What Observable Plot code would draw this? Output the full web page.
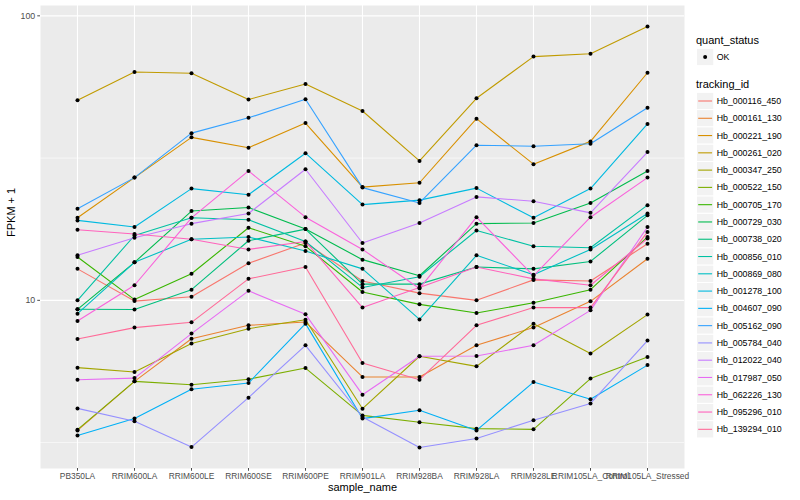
<!DOCTYPE html>
<html>
<head>
<meta charset="utf-8">
<script src="https://cdn.jsdelivr.net/npm/d3@7"></script>
<script src="https://cdn.jsdelivr.net/npm/@observablehq/plot@0.6"></script>
<style>
  body { margin: 0; background: #ffffff; }
  #chart { width: 800px; height: 500px; }
</style>
</head>
<body>
<div id="chart"></div>
<script>
// ---------------- data ----------------
const samples = ["PB350LA", "RRIM600LA", "RRIM600LE", "RRIM600SE", "RRIM600PE", "RRIM901LA",
  "RRIM928BA", "RRIM928LA", "RRIM928LE", "RRIM105LA_Control", "RRIM105LA_Stressed"];

const trackingIds = ["Hb_000116_450", "Hb_000161_130", "Hb_000221_190", "Hb_000261_020",
  "Hb_000347_250", "Hb_000522_150", "Hb_000705_170", "Hb_000729_030", "Hb_000738_020",
  "Hb_000856_010", "Hb_000869_080", "Hb_001278_100", "Hb_004607_090", "Hb_005162_090",
  "Hb_005784_040", "Hb_012022_040", "Hb_017987_050", "Hb_062226_130", "Hb_095296_010",
  "Hb_139294_010"];

const quantStatus = ["OK"];

// FPKM + 1 per sample (same order as samples)
const Hb_000116_450 = [12.9, 9.94, 10.3, 13.5, 15.9, 11.7, 10.6, 10.0, 11.8, 11.7, 15.8];
const Hb_000161_130 = [3.49, 5.19, 7.33, 8.17, 8.39, 5.38, 5.38, 6.95, 8.02, 9.92, 14.0];
const Hb_000221_190 = [19.5, 27.0, 37.4, 34.4, 42.0, 25.0, 25.9, 43.5, 30.1, 36.2, 63.1];
const Hb_000261_020 = [50.5, 63.5, 62.8, 50.8, 57.6, 46.3, 30.9, 51.3, 71.9, 73.6, 91.7];
const Hb_000347_250 = [5.80, 5.60, 7.05, 7.95, 8.55, 4.16, 6.36, 5.86, 8.28, 6.50, 8.91];
const Hb_000522_150 = [3.51, 5.19, 5.05, 5.28, 5.78, 3.94, 3.73, 3.54, 3.52, 5.31, 6.32];
const Hb_000705_170 = [14.2, 10.06, 12.4, 18.0, 15.5, 10.7, 9.68, 9.02, 9.81, 10.9, 16.7];
const Hb_000729_030 = [9.30, 13.6, 20.6, 21.2, 17.8, 13.9, 12.2, 18.6, 18.7, 22.0, 28.5];
const Hb_000738_020 = [9.30, 9.28, 10.9, 16.2, 17.8, 11.4, 11.4, 13.1, 12.9, 13.7, 19.9];
const Hb_000856_010 = [10.0, 16.9, 19.5, 19.2, 16.1, 11.1, 12.1, 17.6, 15.5, 15.3, 21.6];
const Hb_000869_080 = [8.98, 13.6, 16.4, 16.7, 14.9, 12.9, 8.57, 14.4, 12.3, 15.1, 20.2];
const Hb_001278_100 = [19.1, 18.1, 24.7, 23.5, 32.9, 21.7, 22.5, 24.8, 19.5, 24.7, 41.7];
const Hb_004607_090 = [3.35, 3.84, 4.87, 5.12, 8.28, 3.84, 4.11, 3.49, 5.16, 4.49, 5.92];
const Hb_005162_090 = [21.0, 27.0, 38.7, 43.8, 50.9, 24.9, 22.0, 35.1, 34.8, 35.5, 47.5];
const Hb_005784_040 = [4.17, 3.76, 3.05, 4.55, 6.95, 3.89, 3.04, 3.27, 3.79, 4.34, 7.22];
const Hb_012022_040 = [14.4, 16.6, 18.6, 20.2, 28.9, 15.9, 18.7, 23.1, 22.3, 20.3, 33.2];
const Hb_017987_050 = [5.26, 5.33, 7.64, 10.8, 8.93, 4.66, 6.36, 6.37, 6.95, 9.22, 18.1];
const Hb_062226_130 = [8.46, 11.3, 19.5, 28.5, 19.6, 15.1, 11.0, 19.6, 12.2, 19.6, 27.0];
const Hb_095296_010 = [17.7, 17.1, 16.4, 15.1, 16.1, 9.43, 11.1, 13.1, 11.9, 11.3, 16.5];
const Hb_139294_010 = [7.31, 8.02, 8.37, 11.9, 13.1, 6.02, 5.26, 8.17, 9.43, 9.43, 17.4];

const seriesValues = [Hb_000116_450, Hb_000161_130, Hb_000221_190, Hb_000261_020, Hb_000347_250,
  Hb_000522_150, Hb_000705_170, Hb_000729_030, Hb_000738_020, Hb_000856_010, Hb_000869_080,
  Hb_001278_100, Hb_004607_090, Hb_005162_090, Hb_005784_040, Hb_012022_040, Hb_017987_050,
  Hb_062226_130, Hb_095296_010, Hb_139294_010];

// ---------------- ggplot-like hue palette (polar LUV, like R's hcl) ----------------
function hclR(h, c, l) {
  const hr = h * Math.PI / 180;
  const U = c * Math.cos(hr), V = c * Math.sin(hr);
  const WX = 95.047, WY = 100, WZ = 108.883;
  const Y = WY * (l > 7.999592 ? Math.pow((l + 16) / 116, 3) : l / 903.3);
  const t = WX + 15 * WY + 3 * WZ;
  const un = 4 * WX / t, vn = 9 * WY / t;
  const u = U / (13 * l) + un, v = V / (13 * l) + vn;
  const X = 9 * Y * u / (4 * v);
  const Z = -X / 3 - 5 * Y + 3 * Y / v;
  const x = X / 100, y = Y / 100, z = Z / 100;
  const lin = [
    3.240479 * x - 1.537150 * y - 0.498535 * z,
    -0.969256 * x + 1.875992 * y + 0.041556 * z,
    0.055648 * x - 0.204043 * y + 1.057311 * z
  ];
  const g = lin.map(c => {
    const s = c <= 0.0031308 ? 12.92 * c : 1.055 * Math.pow(c, 1 / 2.4) - 0.055;
    return Math.max(0, Math.min(255, Math.round(s * 255)));
  });
  return "#" + g.map(n => n.toString(16).padStart(2, "0")).join("");
}
const nIds = trackingIds.length;
const palette = trackingIds.map((_, i) => hclR(15 + i * 360 / nIds, 100, 65));

// ---------------- table ----------------
const rows = trackingIds.flatMap((id, k) =>
  seriesValues[k].map((v, i) => ({ id, sample: samples[i], value: v, status: quantStatus[0] })));

const ext = d3.extent(rows, d => d.value);
const l0 = Math.log10(ext[0]), l1 = Math.log10(ext[1]);
const pad = (l1 - l0) * 0.05;
const yDomain = [10 ** (l0 - pad), 10 ** (l1 + pad)];
const majorBreaks = [];
const minorBreaks = [];
for (let k = Math.floor(l0 - pad) - 1; k <= Math.ceil(l1 + pad) + 1; k++) {
  if (10 ** k >= yDomain[0] && 10 ** k <= yDomain[1]) majorBreaks.push(10 ** k);
  const m = 10 ** (k + 0.5);
  if (m >= yDomain[0] && m <= yDomain[1]) minorBreaks.push(m);
}

const FONT = "'Liberation Sans', Arial, Helvetica, sans-serif";

const chart = Plot.plot({
  width: 800,
  height: 500,
  marginLeft: 40,
  marginRight: 116,
  marginTop: 5,
  marginBottom: 32,
  style: { fontFamily: FONT, background: "#ffffff", overflow: "visible" },
  x: { type: "point", domain: samples, padding: 0.6 },
  y: { type: "log", domain: yDomain },
  color: { domain: trackingIds, range: palette },
  marks: [
    Plot.frame({ fill: "#EBEBEB", stroke: "none" }),
    Plot.ruleY(minorBreaks, { stroke: "#ffffff", strokeWidth: 0.6 }),
    Plot.ruleY(majorBreaks, { stroke: "#ffffff", strokeWidth: 1.1 }),
    Plot.ruleX(samples, { stroke: "#ffffff", strokeWidth: 1.1 }),
    Plot.lineY(rows, { x: "sample", y: "value", z: "id", stroke: "id", strokeWidth: 1.1 }),
    Plot.dot(rows, { x: "sample", y: "value", r: 2, fill: "#000000", stroke: "none" }),
    Plot.axisX({ tickSize: 2.75, tickPadding: 2, fontSize: 8.4, color: "#4D4D4D", label: null }),
    Plot.axisY({ ticks: majorBreaks, tickFormat: d => String(Math.round(d)), tickSize: 2.75,
      tickPadding: 2.5, fontSize: 8.8, color: "#4D4D4D", label: null }),
    Plot.text(["FPKM + 1"], { frameAnchor: "left", dx: -29, rotate: -90, fontSize: 11, fill: "#000000" }),
    Plot.text(["sample_name"], { frameAnchor: "bottom", dy: 22, fontSize: 11, fill: "#000000" })
  ]
});

document.getElementById("chart").appendChild(chart);

// ---------------- legend (ggplot style, right side) ----------------
const lg = d3.select(chart).append("g")
  .attr("font-family", FONT).attr("fill", "#000000").attr("text-anchor", "start");
const keyX = 696.5, keyW = 17.28, labelX = 716.7;
lg.append("text").attr("x", 696).attr("y", 40.5).attr("dy", "0.35em").attr("font-size", 11)
  .attr("text-anchor", "start").text("quant_status");
quantStatus.forEach((s, i) => {
  const cy = 57 + i * keyW;
  lg.append("rect").attr("x", keyX).attr("y", cy - keyW / 2).attr("width", keyW).attr("height", keyW)
    .attr("fill", "#F2F2F2").attr("stroke", "#ffffff").attr("stroke-width", 1);
  lg.append("circle").attr("cx", keyX + keyW / 2).attr("cy", cy).attr("r", 2).attr("fill", "#000000");
  lg.append("text").attr("x", labelX).attr("y", cy).attr("dy", "0.35em").attr("font-size", 8.8)
    .attr("text-anchor", "start").text(s);
});
lg.append("text").attr("x", 696).attr("y", 84).attr("dy", "0.35em").attr("font-size", 11)
  .attr("text-anchor", "start").text("tracking_id");
trackingIds.forEach((id, k) => {
  const cy = 101 + k * keyW;
  lg.append("rect").attr("x", keyX).attr("y", cy - keyW / 2).attr("width", keyW).attr("height", keyW)
    .attr("fill", "#F2F2F2").attr("stroke", "#ffffff").attr("stroke-width", 1);
  lg.append("line").attr("x1", keyX + 1.7).attr("x2", keyX + keyW - 1.7).attr("y1", cy).attr("y2", cy)
    .attr("stroke", palette[k]).attr("stroke-width", 1.1);
  lg.append("text").attr("x", labelX).attr("y", cy).attr("dy", "0.35em").attr("font-size", 8.8)
    .attr("text-anchor", "start").text(id);
});
</script>
</body>
</html>
